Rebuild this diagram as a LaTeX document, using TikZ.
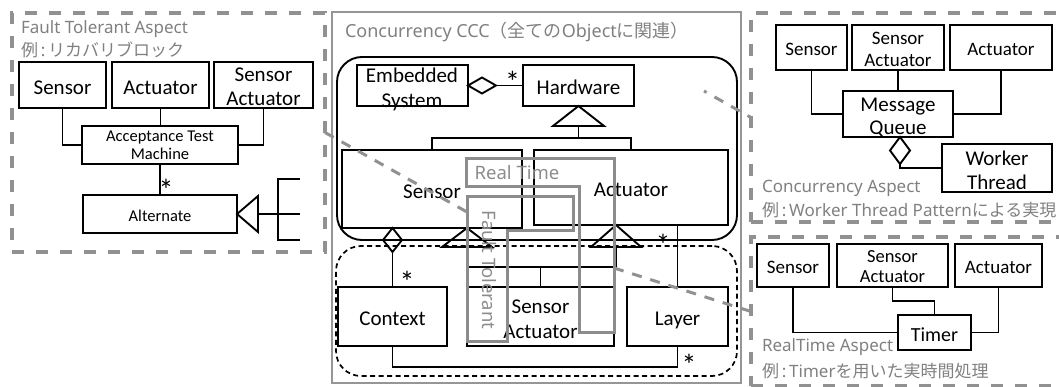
\documentclass[tikz,border=0pt]{standalone}
\usepackage{fontspec}
\setmainfont{Carlito}
\newfontfamily\latf{Noto Sans}
\newfontfamily\jpf{Noto Sans CJK JP}
\usetikzlibrary{shapes.geometric}
\definecolor{aspectgray}{RGB}{145,145,145}
\definecolor{cccgray}{RGB}{150,150,150}
\definecolor{zonegray}{RGB}{140,140,140}
\definecolor{labelgray}{RGB}{128,128,128}

\begin{document}
\begin{tikzpicture}[x=1pt, y=-1pt,
  every node/.style={inner sep=0pt, outer sep=0pt},
  box/.style={draw, line width=1.9pt, text height=18.5pt, text depth=0pt,
              font=\fontsize{21}{25}\selectfont},
  smallbox/.style={box, text height=16.7pt, font=\fontsize{19}{22}\selectfont},
  tinybox/.style={box, text height=14.5pt, font=\fontsize{16.5}{18}\selectfont},
  txt/.style={align=center},
  conn/.style={line width=1.9pt},
  aggr/.style={diamond, draw, line width=1.9pt},
  mult/.style={anchor=base, font=\fontsize{30}{30}\selectfont},
  aspect/.style={draw=aspectgray, line width=3.5pt, dash pattern=on 12pt off 12pt},
  ccc/.style={draw=cccgray, line width=1.8pt},
  zone/.style={draw=zonegray, line width=3pt},
  zonelbl/.style={text=zonegray, font=\latf\fontsize{18.5}{20}\selectfont},
  lbl/.style={anchor=west, text=labelgray, font=\latf\fontsize{17}{20}\selectfont},
  link/.style={draw=aspectgray, line width=3pt, dash pattern=on 10pt off 9pt},
]
\useasboundingbox (0,0) rectangle (1059,387);
\clip (0,0) rectangle (1059,387);

% ---------------- Fault tolerant aspect ----------------
\node[aspect, minimum width=313pt, minimum height=239pt] (ftasp) at (168.5,132.5) {};
\node[lbl] (ftname) at (21,29) {Fault Tolerant Aspect};
\node[lbl] (ftex) at (21,50) {{\jpf 例}\,:\,{\jpf リカバリブロック}};

\node[box, minimum width=87pt, minimum height=46pt] (lS) at (62.5,85) {Sensor};
\node[box, minimum width=97pt, minimum height=46pt] (lA) at (160.5,85) {Actuator};
\node[box, minimum width=99pt, minimum height=46pt] (lSA) at (263.5,85) {};
\node[txt, font=\fontsize{21}{24}\selectfont] (lSAt) at (263.5,87) {Sensor\\Actuator};
\node[tinybox, minimum width=156pt, minimum height=38pt] (atm) at (160,145) {};
\node[txt, font=\fontsize{16.5}{18}\selectfont] (atmt) at (160,145.6) {Acceptance Test\\Machine};
\node[tinybox, minimum width=154pt, minimum height=38pt] (alt) at (160,214) {Alternate};

\draw[conn] (lS.south) |- (atm.west);
\draw[conn] (lA.south) -- (lA.south |- atm.north);
\draw[conn] (lSA.south) |- (atm.east);
\draw[conn] (atm.south) -- (alt.north);
\node[mult] (m1) at (166,201) {*};

% generalisation towards Alternate, with its open bracket of subclasses
\draw[conn] (alt.east) -- ++(21,-18) -- ++(0,36) -- cycle;
\coordinate (altbase) at ([xshift=21pt]alt.east);
\coordinate (brtop) at (278,179);
\coordinate (brbot) at (278,240);
\coordinate (ext1) at (300,179);
\coordinate (ext2) at (300,214);
\coordinate (ext3) at (300,240);
\draw[conn] (altbase) -- (ext2);
\draw[conn] (ext1) -- (brtop) -- (brbot) -- (ext3);

% ---------------- Concurrency CCC ----------------
\node[ccc, minimum width=409pt, minimum height=371pt] (cccbox) at (536.5,197.5) {};
\node[lbl, font=\latf\fontsize{18}{20}\selectfont] (ccct) at (345,32)
  {Concurrency CCC{\jpf （全ての}Object{\jpf に関連）}};
\node[draw, line width=1.9pt, rounded corners=25pt,
      minimum width=400pt, minimum height=183pt] (core) at (537,148.5) {};
\node[draw, line width=1.7pt, dash pattern=on 5pt off 3.5pt, rounded corners=25pt,
      minimum width=401pt, minimum height=130pt] (ctxarea) at (536.5,311) {};

\node[box, minimum width=111pt, minimum height=41pt] (es) at (412.5,85.5) {};
\node[txt, font=\fontsize{21}{25}\selectfont] (est) at (412,89.5) {Embedded\\System};
\node[box, minimum width=111pt, minimum height=41pt] (hw) at (578.5,85.5) {Hardware};
\node[box, minimum width=180pt, minimum height=78pt] (cS) at (432,189) {Sensor};
\node[box, minimum width=194pt, minimum height=75pt] (cA) at (631,187.5) {Actuator};
\node[box, minimum width=109pt, minimum height=59pt] (ctx) at (392.5,316.5) {Context};
\node[box, minimum width=147pt, minimum height=59pt] (cSA) at (540.5,316.5) {};
\node[txt, font=\fontsize{21}{25}\selectfont] (cSAt) at (540.5,319.5) {Sensor\\Actuator};
\node[box, minimum width=101pt, minimum height=59pt] (lay) at (677.5,316.5) {Layer};

% Embedded System aggregates Hardware
\node[aggr, minimum width=28pt, minimum height=16pt, anchor=west] (esd) at (es.east) {};
\draw[conn] (esd.east) -- (hw.west);
\node[mult] (m2) at (512.5,93) {*};

% Hardware generalises Sensor and Actuator
\draw[conn] (hw.south) -- ++(-25.5,20) -- ++(51,0) -- cycle;
\coordinate (hwb) at ([yshift=-20pt]hw.south);
\coordinate (hwj) at (578.5,138);
\draw[conn] (hwb) -- (hwj);
\draw[conn] (cS.north) |- (hwj) -| (cA.north);

% Sensor aggregates Context
\node[aggr, minimum width=19pt, minimum height=24pt, anchor=north] (sd) at (cS.south -| ctx.north) {};
\draw[conn] (sd.south) -- (ctx.north);
\node[mult] (m3) at (407,292) {*};

% Sensor Actuator specialises both Sensor and Actuator
\coordinate (gS) at (cS.south -| cSA.north west);
\draw[conn] (gS) -- ++(-25,19) -- ++(50,0) -- cycle;
\coordinate (gSb) at (467,247);
\coordinate (gA) at (616,225);
\draw[conn] (gA) -- ++(-25,22) -- ++(50,0) -- cycle;
\coordinate (gAb) at (616,247);
\coordinate (gjS) at (467,267);
\coordinate (gjA) at (616,267);
\draw[conn] (gSb) -- (gjS) -- (gjA) -- (gAb);
\draw[conn] (cSA.north) -- (cSA.north |- gjS);

% Actuator to Layer, Context to Layer
\draw[conn] (cA.south -| lay.north) -- (lay.north);
\node[mult] (m4) at (663,255) {*};
\draw[conn] (ctx.south) -- ++(0,21) -| (lay.south);
\node[mult] (m5) at (689,375) {*};

% crosscutting zones
\draw[zone] (466,159) -- (614,159) -- (614,332) -- (579,332) -- (579,187) -- (466,187) -- cycle;
\draw[zone] (467,197) -- (573,197) -- (573,231) -- (507,231) -- (507,341) -- (467,341) -- cycle;
\node[zonelbl] (rtz) at (517,173) {Real Time};
\node[zonelbl, rotate=-90] (ftz) at (489,270) {Fault Tolerant};
\coordinate (ftzin) at (467,212);
\coordinate (rtzout) at (614,268);
\coordinate (ccin) at (704,91);

% ---------------- Concurrency aspect ----------------
\node[aspect, minimum width=324pt, minimum height=209pt] (caasp) at (913,117.5) {};
\node[smallbox, minimum width=71pt, minimum height=45pt] (rS) at (811.5,47.5) {Sensor};
\node[box, minimum width=92pt, minimum height=45pt] (rSA) at (898,47.5) {};
\node[txt, font=\fontsize{19}{22}\selectfont] (rSAt) at (898,49) {Sensor\\Actuator};
\node[smallbox, minimum width=102pt, minimum height=45pt] (rA) at (1001,47.5) {Actuator};
\node[box, minimum width=110pt, minimum height=46pt] (mq) at (898,114) {};
\node[txt, font=\fontsize{21}{23}\selectfont] (mqt) at (898,118) {Message\\Queue};
\node[box, minimum width=110pt, minimum height=48pt] (wt) at (997,168) {};
\node[txt, font=\fontsize{21}{24}\selectfont] (wtt) at (997,170.5) {Worker\\Thread};
\draw[conn] (rS.south) |- (mq.west);
\draw[conn] (rSA.south) -- (mq.north);
\draw[conn] (rA.south) |- (mq.east);
\node[aggr, minimum width=20pt, minimum height=27pt, anchor=north] (mqd) at ([xshift=2pt]mq.south) {};
\draw[conn] (mqd.south) |- (wt.west);
\node[lbl] (caname) at (762,188) {Concurrency Aspect};
\node[lbl] (caex) at (762,210) {{\jpf 例}\,:\,Worker Thread Pattern{\jpf による実現}};

% ---------------- RealTime aspect ----------------
\node[aspect, minimum width=324pt, minimum height=149pt] (rtasp) at (913,311.5) {};
\node[smallbox, minimum width=72pt, minimum height=43pt] (tS) at (793,265.5) {Sensor};
\node[box, minimum width=111pt, minimum height=43pt] (tSA) at (892.5,265.5) {};
\node[txt, font=\fontsize{18.5}{20}\selectfont] (tSAt) at (892.5,267) {Sensor\\Actuator};
\node[smallbox, minimum width=87pt, minimum height=43pt] (tA) at (998.5,265.5) {Actuator};
\node[box, text height=17.5pt, font=\fontsize{20}{22}\selectfont,
      minimum width=73pt, minimum height=35pt] (tm) at (934.5,332.5) {Timer};
\draw[conn] (tS.south) |- (tm.west);
\draw[conn] (tSA.south) -- ++(0,14) -| (tm.north);
\draw[conn] (tA.south) |- (tm.east);
\node[lbl] (rtname) at (762,347) {RealTime Aspect};
\node[lbl] (rtex) at (762,371) {{\jpf 例}\,:\,Timer{\jpf を用いた実時間処理}};

% links between the aspects and the places they cut across
\draw[link] (ftasp.east) -- (ftzin);
\draw[link] (rtzout) -- (rtasp.west);
\draw[link, dash phase=7pt] (ccin) -- (caasp.west);
\end{tikzpicture}
\end{document}
